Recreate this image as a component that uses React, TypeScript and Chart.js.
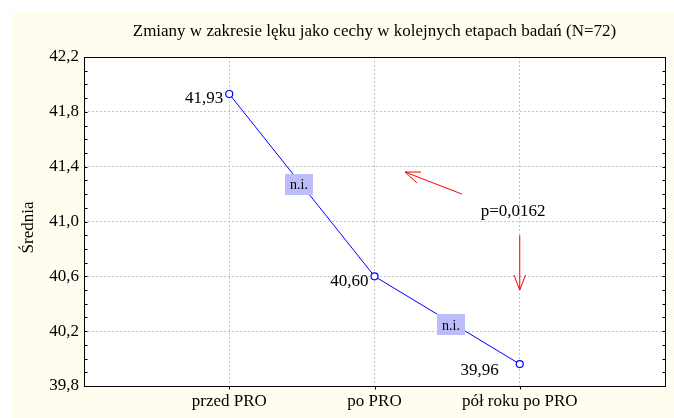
import React, { useEffect, useRef } from 'react';
import { Chart, registerables } from 'chart.js';

Chart.register(...registerables);

// ---- data ----
const titleText = 'Zmiany w zakresie lęku jako cechy w kolejnych etapach badań (N=72)';
const yAxisTitle = 'Średnia';
const categories = ['przed PRO', 'po PRO', 'pół roku po PRO'];
const means = [41.93, 40.6, 39.96];
const yTickValues = [39.8, 40.2, 40.6, 41.0, 41.4, 41.8, 42.2];
const yMin = 39.8;
const yMax = 42.2;
const minorStep = 0.1;
const pairLabels = ['n.i.', 'n.i.'];
const pairLabelAnchors = [
  { x: 1.48, y: 41.27 },
  { x: 2.527, y: 40.245 },
];
const pValueText = 'p=0,0162';
const pValueAnchor = { x: 2.954, y: 41.077 };
const arrowSegments = [
  { from: { x: 2.602, y: 41.2 }, to: { x: 2.21, y: 41.361 } },
  { from: { x: 3, y: 40.9 }, to: { x: 3, y: 40.5 } },
];

const FONT = "'Liberation Serif', 'Times New Roman', serif";
const fmt = (v: number, d: number) => v.toFixed(d).replace('.', ',');

const decorPlugin = {
  id: 'decor',
  beforeDraw(chart: any) {
    const { ctx, width, height, chartArea } = chart;
    ctx.save();
    ctx.fillStyle = '#ffffff';
    ctx.fillRect(0, 0, width, height);
    ctx.fillStyle = '#fffdf0';
    ctx.fillRect(12, 12, width - 12, height - 12);
    ctx.fillStyle = '#ffffff';
    ctx.fillRect(chartArea.left, chartArea.top, chartArea.right - chartArea.left, chartArea.bottom - chartArea.top);
    // title, centred over the plot
    ctx.fillStyle = '#000000';
    ctx.font = `17px ${FONT}`;
    ctx.textAlign = 'center';
    ctx.textBaseline = 'middle';
    ctx.fillText(titleText, (chartArea.left + chartArea.right) / 2, 32);
    // y axis title
    ctx.save();
    ctx.translate(29, (chartArea.top + chartArea.bottom) / 2 + 6);
    ctx.rotate(-Math.PI / 2);
    ctx.fillText(yAxisTitle, 0, 0);
    ctx.restore();
    ctx.restore();
  },
  afterDraw(chart: any) {
    const { ctx, chartArea } = chart;
    const xs = chart.scales.x;
    const ys = chart.scales.y;
    const L = Math.round(chartArea.left) + 0.5;
    const R = Math.round(chartArea.right) + 0.5;
    const T = Math.round(chartArea.top) + 0.5;
    const B = Math.round(chartArea.bottom) + 0.5;
    ctx.save();
    ctx.strokeStyle = '#000000';
    ctx.lineWidth = 1;
    ctx.beginPath();
    const n = Math.round((yMax - yMin) / minorStep);
    for (let i = 0; i <= n; i++) {
      const v = yMin + i * minorStep;
      const py = Math.round(ys.getPixelForValue(v)) + 0.5;
      ctx.moveTo(L, py);
      ctx.lineTo(L + 3, py);
      ctx.moveTo(R, py);
      ctx.lineTo(R - 3, py);
    }
    categories.forEach((_, i) => {
      const px = Math.round(xs.getPixelForValue(i + 1)) + 0.5;
      ctx.moveTo(px, B);
      ctx.lineTo(px, B + 3);
    });
    ctx.stroke();
    ctx.strokeRect(L, T, R - L, B - T);

    // value labels
    ctx.fillStyle = '#000000';
    ctx.font = `17px ${FONT}`;
    ctx.textBaseline = 'middle';
    ctx.textAlign = 'right';
    means.forEach((v, i) => {
      const px = xs.getPixelForValue(i + 1);
      const py = ys.getPixelForValue(v);
      const txt = fmt(v, 2);
      if (i === means.length - 1) {
        ctx.fillText(txt, px - 21, py + 6);
      } else {
        ctx.fillText(txt, px - 6, py + 5);
      }
    });

    // pair labels (n.i.)
    pairLabels.forEach((txt, i) => {
      const a = pairLabelAnchors[i];
      const cx = xs.getPixelForValue(a.x);
      const cy = ys.getPixelForValue(a.y);
      ctx.fillStyle = '#bcbcfa';
      ctx.fillRect(Math.round(cx - 14), Math.round(cy - 10.5), 28, 21);
      ctx.fillStyle = '#000000';
      ctx.font = `14px ${FONT}`;
      ctx.textAlign = 'center';
      ctx.textBaseline = 'middle';
      ctx.fillText(txt, cx, cy + 1);
    });

    // p value
    ctx.fillStyle = '#000000';
    ctx.font = `17px ${FONT}`;
    ctx.textAlign = 'center';
    ctx.textBaseline = 'middle';
    ctx.fillText(pValueText, xs.getPixelForValue(pValueAnchor.x), ys.getPixelForValue(pValueAnchor.y) + 1);

    // arrows
    ctx.strokeStyle = '#ff0000';
    ctx.lineWidth = 1;
    arrowSegments.forEach((s) => {
      const x1 = xs.getPixelForValue(s.from.x);
      const y1 = ys.getPixelForValue(s.from.y);
      const x2 = xs.getPixelForValue(s.to.x);
      const y2 = ys.getPixelForValue(s.to.y);
      const ang = Math.atan2(y1 - y2, x1 - x2);
      const len = 16;
      const spread = (21 * Math.PI) / 180;
      ctx.beginPath();
      ctx.moveTo(x1, y1);
      ctx.lineTo(x2, y2);
      ctx.moveTo(x2 + len * Math.cos(ang - spread), y2 + len * Math.sin(ang - spread));
      ctx.lineTo(x2, y2);
      ctx.lineTo(x2 + len * Math.cos(ang + spread), y2 + len * Math.sin(ang + spread));
      ctx.stroke();
    });
    ctx.restore();
  },
};

export default function App() {
  const ref = useRef<HTMLCanvasElement | null>(null);
  useEffect(() => {
    document.body.style.margin = '0';
    const canvas = ref.current;
    if (!canvas) return;
    const chart = new Chart(canvas, {
      type: 'line',
      data: {
        datasets: [
          {
            data: means.map((v, i) => ({ x: i + 1, y: v })),
            borderColor: '#0000ff',
            borderWidth: 1,
            pointRadius: 3.5,
            pointBorderWidth: 1.2,
            pointBorderColor: '#0000ff',
            pointBackgroundColor: '#ffffff',
            tension: 0,
            fill: false,
          },
        ],
      },
      options: {
        responsive: false,
        animation: false,
        devicePixelRatio: 1,
        layout: { padding: { left: 0, top: 57, right: 9, bottom: 0 } },
        plugins: {
          legend: { display: false },
          tooltip: { enabled: false },
          title: { display: false },
        },
        scales: {
          x: {
            type: 'linear',
            min: 0,
            max: 4,
            afterBuildTicks: (scale: any) => {
              scale.ticks = categories.map((_, i) => ({ value: i + 1 }));
            },
            afterFit: (scale: any) => {
              scale.height = 32;
            },
            ticks: {
              callback: (v: any) => categories[Math.round(Number(v)) - 1] ?? '',
              color: '#000000',
              font: { family: FONT, size: 17 },
              padding: 5,
              maxRotation: 0,
              autoSkip: false,
            },
            grid: { color: '#c4c4c4', drawTicks: false, lineWidth: 1 },
            border: { display: false, dash: [2, 2] },
          },
          y: {
            type: 'linear',
            min: yMin,
            max: yMax,
            afterBuildTicks: (scale: any) => {
              scale.ticks = yTickValues.map((v) => ({ value: v }));
            },
            afterFit: (scale: any) => {
              scale.width = 84;
            },
            ticks: {
              callback: (v: any) => fmt(Number(v), 1),
              color: '#000000',
              font: { family: FONT, size: 17 },
              padding: 5,
              autoSkip: false,
            },
            grid: { color: '#c4c4c4', drawTicks: false, lineWidth: 1 },
            border: { display: false, dash: [2, 2] },
          },
        },
      },
      plugins: [decorPlugin],
    } as any);
    return () => chart.destroy();
  }, []);
  return <canvas ref={ref} width={674} height={418} style={{ display: 'block' }} />;
}
